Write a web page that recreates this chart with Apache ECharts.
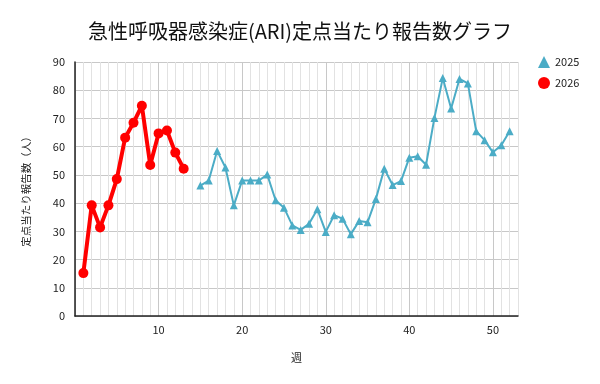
<!DOCTYPE html>
<html><head><meta charset="utf-8">
<script src="https://cdn.jsdelivr.net/npm/echarts@6/dist/echarts.min.js"></script>
<style>html,body{margin:0;padding:0;background:#fff}#c{width:600px;height:384px}</style>
</head><body><div id="c"></div>
<script>
const weeks2025 = [15,16,17,18,19,20,21,22,23,24,25,26,27,28,29,30,31,32,33,34,35,36,37,38,39,40,41,42,43,44,45,46,47,48,49,50,51,52];
const values2025 = [46.2,48.0,58.5,52.6,39.2,48.0,48.0,48.0,50.1,41.0,38.4,32.1,30.5,32.7,37.8,29.8,35.7,34.5,29.0,33.7,33.2,41.5,52.2,46.4,47.8,56.1,56.6,53.6,70.2,84.3,73.5,84.0,82.4,65.5,62.3,58.0,60.5,65.5];
const weeks2026 = [1,2,3,4,5,6,7,8,9,10,11,12,13];
const values2026 = [15.2,39.2,31.4,39.2,48.5,63.2,68.5,74.5,53.5,64.7,65.7,57.9,52.2];
const xLabels = [10,20,30,40,50];
const font = '"Noto Sans CJK JP", "Noto Sans", sans-serif';

const chart = echarts.init(document.getElementById('c'));
chart.setOption({
  animation: false,
  textStyle: {fontFamily: font},
  title: {text: '急性呼吸器感染症(ARI)定点当たり報告数グラフ', left: 'center', top: 16,
    textStyle: {fontSize: 20, fontWeight: 'normal', color: '#111', fontFamily: font}},
  legend: {orient: 'vertical', left: 533, top: 51, itemGap: 9, itemWidth: 12, itemHeight: 12,
    textStyle: {fontSize: 11, color: '#222', fontFamily: font},
    data: [{name: '2025', icon: 'triangle'}, {name: '2026', icon: 'circle'}]},
  grid: {left: 75, right: 82, top: 62, bottom: 68},
  xAxis: {type: 'value', min: 0, max: 53, interval: 1,
    name: '週', nameLocation: 'middle', nameGap: 36, nameTextStyle: {fontSize: 11, color: '#222'},
    axisLine: {lineStyle: {color: '#222', width: 1.5}},
    axisTick: {show: false},
    axisLabel: {fontSize: 11, color: '#222', margin: 8,
      formatter: v => xLabels.indexOf(v) >= 0 ? String(v) : ''},
    splitLine: {show: true, lineStyle: {color: ['#c8c8c8','#e2e2e2','#e2e2e2','#e2e2e2','#e2e2e2','#e2e2e2','#e2e2e2','#e2e2e2','#e2e2e2','#e2e2e2'], width: 1}}
  },
  yAxis: {type: 'value', min: 0, max: 90, interval: 10,
    name: '定点当たり報告数（人）', nameLocation: 'middle', nameGap: 44, nameRotate: 90,
    nameTextStyle: {fontSize: 10.5, color: '#222'},
    axisLine: {show: true, lineStyle: {color: '#222', width: 1.5}},
    axisTick: {show: false},
    axisLabel: {fontSize: 11, color: '#222', margin: 10},
    splitLine: {lineStyle: {color: '#c8c8c8'}}
  },
  series: [
    {name: '2025', type: 'line', data: weeks2025.map((w,i)=>[w, values2025[i]]),
      symbol: 'triangle', symbolSize: 8, color: '#4bacc6',
      lineStyle: {width: 2, color: '#4bacc6'}, itemStyle: {color: '#4bacc6'}},
    {name: '2026', type: 'line', data: weeks2026.map((w,i)=>[w, values2026[i]]),
      symbol: 'circle', symbolSize: 10, color: '#ff0000',
      lineStyle: {width: 4, color: '#ff0000'}, itemStyle: {color: '#ff0000'}}
  ]
});
</script></body></html>
